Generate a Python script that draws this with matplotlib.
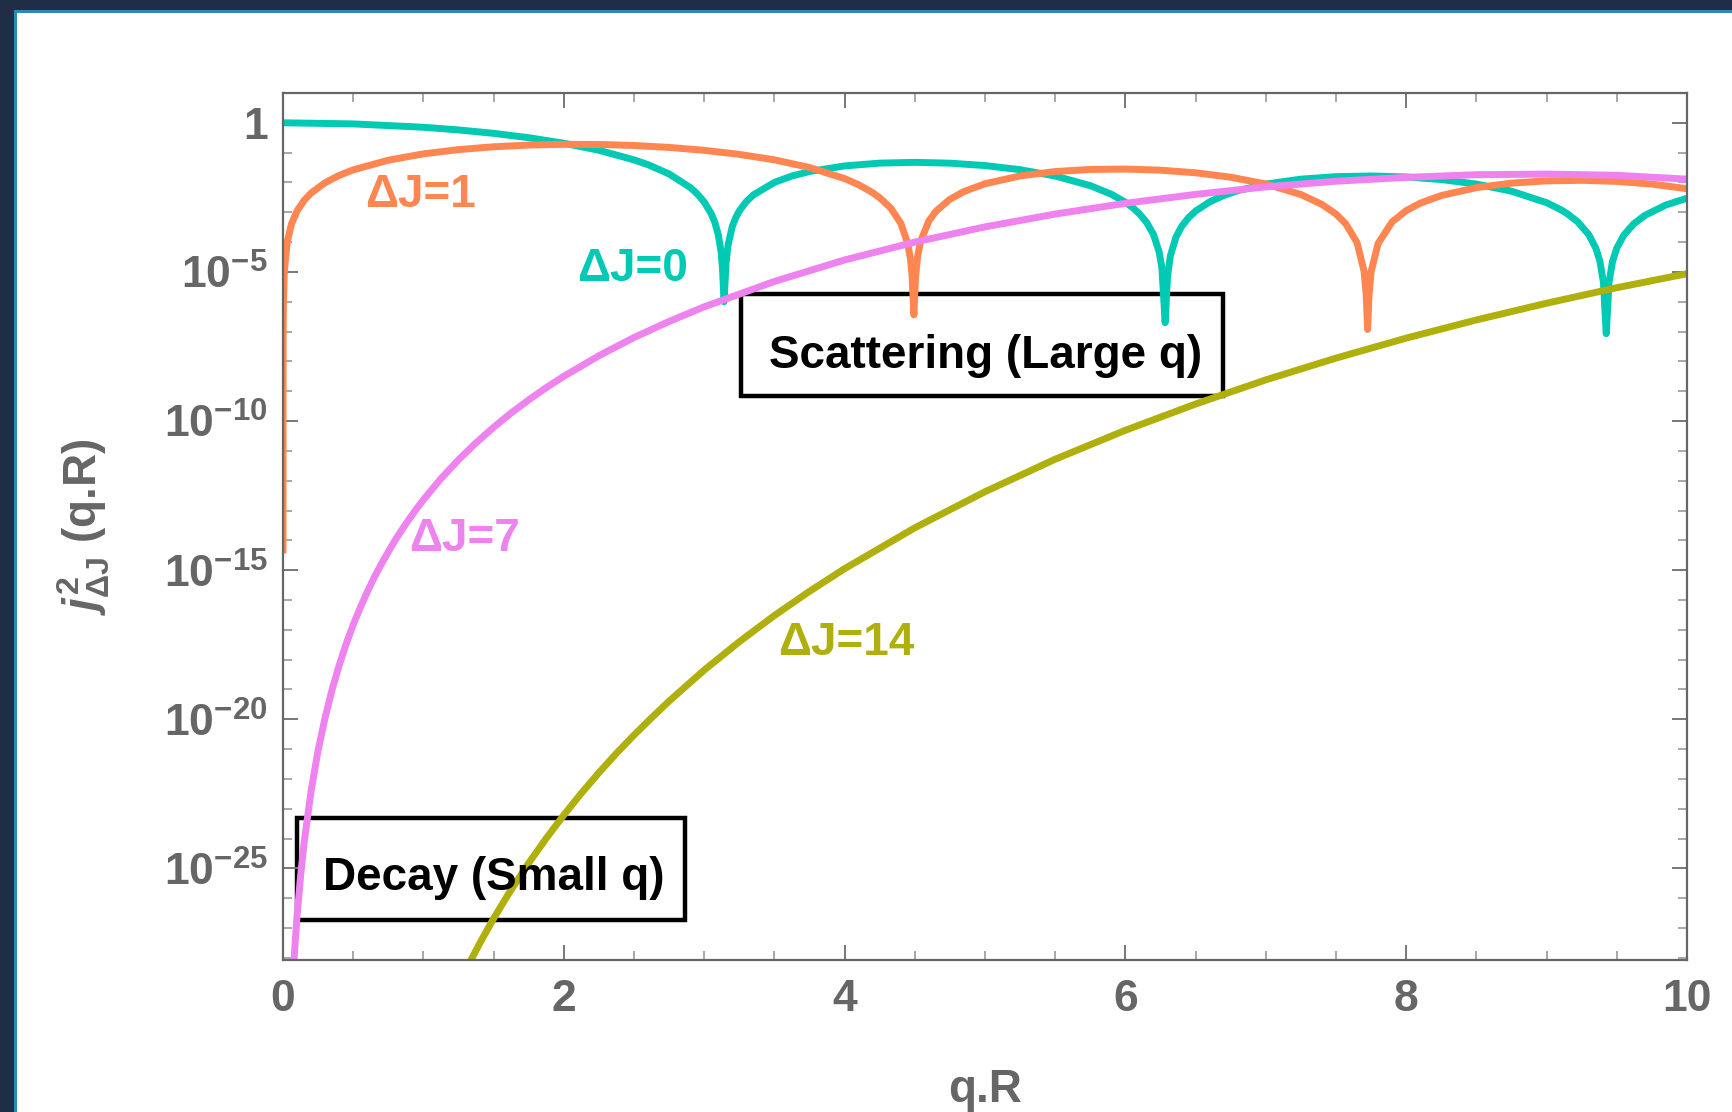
import matplotlib
matplotlib.use("Agg")
import matplotlib.pyplot as plt
import numpy as np
from matplotlib.patches import Rectangle
from matplotlib.ticker import FixedLocator, FixedFormatter, NullFormatter

plt.rcParams['font.family'] = ['Liberation Sans', 'DejaVu Sans']
plt.rcParams['font.weight'] = 'bold'
plt.rcParams['mathtext.fontset'] = 'custom'
plt.rcParams['mathtext.rm'] = 'Liberation Sans:bold'
plt.rcParams['mathtext.it'] = 'Liberation Sans:italic:bold'
plt.rcParams['mathtext.bf'] = 'Liberation Sans:bold'

# log10 of j_dJ(qR)^2
x_dj0 = [0, 0.5, 1, 1.25, 1.5, 1.75, 2, 2.25, 2.5, 2.6,
         2.75, 2.9, 2.95, 3, 3.05, 3.075, 3.1, 3.12, 3.13, 3.1416,
         3.155, 3.17, 3.2, 3.225, 3.25, 3.3, 3.35, 3.5, 3.625, 3.75,
         4, 4.25, 4.5, 4.75, 5, 5.25, 5.5, 5.75, 5.9, 6,
         6.05, 6.1, 6.15, 6.2, 6.24, 6.26, 6.2832, 6.30, 6.32, 6.36,
         6.4, 6.45, 6.5, 6.6, 6.7, 6.8, 7, 7.25, 7.5, 7.75,
         8, 8.25, 8.5, 8.75, 9, 9.1, 9.15, 9.22, 9.3, 9.35,
         9.38, 9.405, 9.4248, 9.445, 9.47, 9.5, 9.55, 9.62, 9.7, 9.85,
         10]
log_dj0 = [0, -0.037, -0.150, -0.239, -0.354, -0.500, -0.685, -0.922, -1.242, -1.406,
           -1.715, -2.167, -2.380, -2.655, -3.046, -3.329, -3.745, -4.32, -4.863, -6.0,
           -4.743, -4.095, -3.478, -3.176, -2.955, -2.641, -2.419, -1.998, -1.784, -1.634,
           -1.446, -1.353, -1.326, -1.354, -1.434, -1.572, -1.784, -2.107, -2.396, -2.664,
           -2.836, -3.050, -3.331, -3.746, -4.32, -4.863, -6.7, -5.148, -4.469, -3.836,
           -3.479, -3.179, -2.960, -2.652, -2.438, -2.277, -2.055, -1.890, -1.806, -1.783,
           -1.816, -1.903, -2.054, -2.293, -2.678, -2.910, -3.056, -3.313, -3.747, -4.195,
           -4.642, -5.354, -7.07, -5.339, -4.642, -4.204, -3.767, -3.391, -3.105, -2.756,
           -2.529]

x_dj1 = [1.8e-7, 1e-4, 1e-3, 3e-3, 0.01, 0.03, 0.06, 0.1, 0.15, 0.2,
         0.3, 0.4, 0.5, 0.75, 1, 1.25, 1.5, 1.75, 2, 2.25,
         2.5, 2.75, 3, 3.25, 3.5, 3.75, 4, 4.1, 4.2, 4.25,
         4.33, 4.4, 4.45, 4.47, 4.48, 4.4934, 4.505, 4.52, 4.54, 4.6,
         4.65, 4.75, 4.85, 5, 5.25, 5.5, 5.75, 6, 6.25, 6.5,
         6.75, 7, 7.25, 7.4, 7.5, 7.57, 7.65, 7.7, 7.715, 7.7253,
         7.735, 7.75, 7.8, 7.9, 8, 8.1, 8.25, 8.5, 8.75, 9,
         9.25, 9.5, 9.75, 10]
log_dj1 = [-14.44, -8.954, -6.954, -6.0, -4.954, -4.0, -3.398, -2.955, -2.604, -2.356,
           -2.008, -1.764, -1.578, -1.254, -1.042, -0.899, -0.804, -0.747, -0.722, -0.727,
           -0.761, -0.826, -0.923, -1.059, -1.243, -1.498, -1.870, -2.077, -2.344, -2.513,
           -2.868, -3.368, -4.05, -4.59, -5.08, -6.44, -5.2, -4.48, -3.99, -3.292,
           -2.970, -2.565, -2.305, -2.044, -1.781, -1.635, -1.564, -1.551, -1.588, -1.676,
           -1.824, -2.051, -2.405, -2.737, -3.059, -3.388, -4.016, -4.975, -5.755, -6.93,
           -5.81, -4.995, -4.045, -3.322, -2.946, -2.695, -2.438, -2.174, -2.023, -1.947,
           -1.929, -1.965, -2.055, -2.211]

x_dj7 = [0.07, 0.08, 0.09, 0.1, 0.125, 0.15, 0.2, 0.25, 0.3, 0.35,
         0.4, 0.45, 0.5, 0.55, 0.6, 0.65, 0.7, 0.75, 0.8, 0.85,
         0.9, 0.95, 1, 1.125, 1.25, 1.375, 1.5, 1.625, 1.75, 1.875,
         2, 2.25, 2.5, 2.75, 3, 3.5, 4, 4.5, 5, 5.5,
         6, 6.5, 7, 7.5, 8, 8.5, 9, 9.5, 10]
log_dj7 = [-28.78, -27.97, -27.25, -26.61, -25.26, -24.15, -22.40, -21.04, -19.94, -19.00,
           -18.19, -17.47, -16.83, -16.26, -15.73, -15.24, -14.80, -14.38, -13.99, -13.62,
           -13.28, -12.95, -12.64, -11.93, -11.30, -10.73, -10.21, -9.73, -9.29, -8.88,
           -8.50, -7.81, -7.20, -6.66, -6.17, -5.32, -4.60, -4.00, -3.49, -3.06,
           -2.70, -2.40, -2.15, -1.96, -1.83, -1.74, -1.72, -1.76, -1.89]

x_dj14 = [1.3, 1.4, 1.5, 1.6, 1.75, 1.875, 2, 2.125, 2.25, 2.375,
          2.5, 2.625, 2.75, 3, 3.25, 3.5, 3.75, 4, 4.5, 5,
          5.5, 6, 6.5, 7, 7.5, 8, 8.5, 9, 9.5, 10]
log_dj14 = [-28.42, -27.52, -26.68, -25.90, -24.82, -23.99, -23.21, -22.48, -21.79, -21.14,
            -20.53, -19.95, -19.39, -18.35, -17.40, -16.52, -15.71, -14.95, -13.58, -12.37,
            -11.28, -10.31, -9.43, -8.62, -7.89, -7.22, -6.61, -6.05, -5.53, -5.06]

series = [
    (x_dj0, log_dj0, '#00c9b4', 'ΔJ=0', 2.49, -4.89),
    (x_dj1, log_dj1, '#ff8551', 'ΔJ=1', 0.98, -2.41),
    (x_dj7, log_dj7, '#ee82ee', 'ΔJ=7', 1.29, -13.96),
    (x_dj14, log_dj14, '#b0b00c', 'ΔJ=14', 4.01, -17.44),
]

y_ticks = [1, 1e-5, 1e-10, 1e-15, 1e-20, 1e-25]
y_tick_labels = ['1', r'$10^{-5}$', r'$10^{-10}$', r'$10^{-15}$', r'$10^{-20}$', r'$10^{-25}$']
gray = '#666666'

fig = plt.figure(figsize=(17.32, 11.12), dpi=100)
fig.patch.set_facecolor('#1f2d47')
panel = Rectangle((15 / 1732, -0.05), 1.2, 1.05 - 11 / 1112,
                  transform=fig.transFigure, facecolor='white',
                  edgecolor='#2a8ab3', linewidth=2.2, zorder=-10)
fig.patches.append(panel)

ax = fig.add_axes([0.1634, 0.1367, 0.9740 - 0.1634, 0.9164 - 0.1367])
ax.set_zorder(5)
ax.set_facecolor('white')

for xs, ls, col, lab, tx, ty in series:
    ax.semilogy(xs, 10 ** np.array(ls), color=col, lw=5, solid_capstyle='butt',
                solid_joinstyle='round')
    ax.text(tx, 10 ** ty, lab, color=col, fontsize=33, fontweight='bold',
            ha='center', va='center')

# annotation boxes (axes fraction)
ax.add_patch(Rectangle((0.3265, 0.6510), 0.3431, 0.1172, transform=ax.transAxes,
                       fill=False, edgecolor='black', lw=3.2))
ax.text(0.5004, 0.6828, 'Scattering (Large q)', transform=ax.transAxes, color='black',
        fontsize=33, fontweight='bold', ha='center', va='baseline')
ax.add_patch(Rectangle((0.0102, 0.0459), 0.2762, 0.1184, transform=ax.transAxes,
                       fill=False, edgecolor='black', lw=3.2))
ax.text(0.1503, 0.0803, 'Decay (Small q)', transform=ax.transAxes, color='black',
        fontsize=33, fontweight='bold', ha='center', va='baseline')

ax.set_xlim(0, 10)
ax.set_ylim(10 ** -28.07, 10)
ax.set_xticks([0, 2, 4, 6, 8, 10])
ax.set_xticks(np.arange(0, 10.01, 0.5), minor=True)
ax.yaxis.set_major_locator(FixedLocator(y_ticks))
ax.yaxis.set_major_formatter(FixedFormatter(y_tick_labels))
ax.yaxis.set_minor_locator(FixedLocator([10.0 ** k for k in range(-28, 1)]))
ax.yaxis.set_minor_formatter(NullFormatter())

ax.tick_params(which='both', direction='in', top=True, right=True, colors='#777777',
               labelcolor=gray, labelsize=32)
ax.tick_params(which='major', length=11, width=1.4)
ax.tick_params(which='minor', length=6.5, width=1.2, colors='#999999')
ax.tick_params(axis='x', which='major', pad=14)
ax.tick_params(axis='y', which='major', pad=11)
for lbl in ax.get_xticklabels() + ax.get_yticklabels():
    lbl.set_fontweight('bold')
for sp in ax.spines.values():
    sp.set_color(gray)
    sp.set_linewidth(1.6)

ax.set_xlabel('q.R', fontsize=33, fontweight='bold', color=gray)
ax.xaxis.set_label_coords(0.5, -0.125)
ax.xaxis.label.set_va('top')
ax.set_ylabel(r'$j^{2}_{\mathrm{ΔJ}}$ (q.R)', fontsize=33, fontweight='bold', color=gray)
ax.yaxis.set_label_coords(-0.122, 0.5)

fig.savefig('out.png', dpi=100, facecolor=fig.get_facecolor())
